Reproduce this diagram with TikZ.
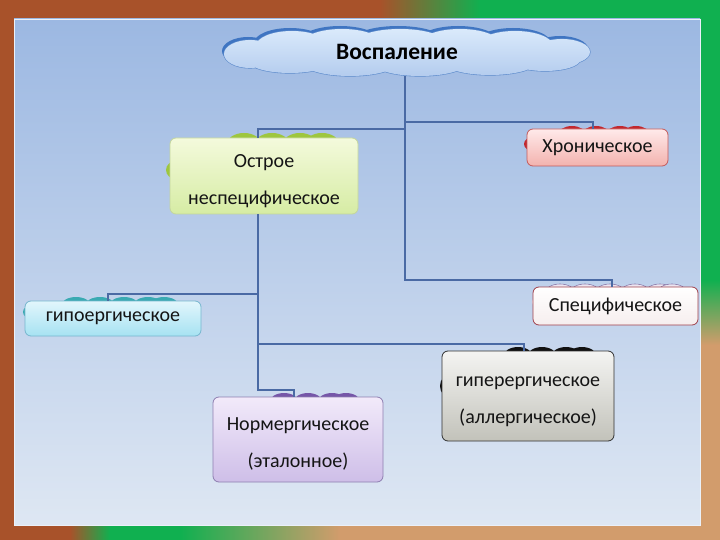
\documentclass[tikz,border=0pt]{standalone}
\usepackage{fontspec}
\setmainfont{Carlito}
\definecolor{frbrown}{HTML}{A8522A}
\definecolor{frgreen}{HTML}{10B050}
\definecolor{frtan}{HTML}{D29C6C}
\definecolor{pantop}{HTML}{9CB8E2}
\definecolor{panbot}{HTML}{DEE7F3}
\definecolor{lineblue}{HTML}{4A6AA4}
\definecolor{txt}{HTML}{151515}
\definecolor{cldark}{HTML}{3F75C2}
\definecolor{cltop}{HTML}{DAEAFB}
\definecolor{clbot}{HTML}{B4CCEE}
\definecolor{clline}{HTML}{5E8CCC}
\definecolor{bgreen}{HTML}{9EC63E}
\definecolor{bred}{HTML}{C2282E}
\definecolor{bspec}{HTML}{ECE6F2}
\definecolor{bspecl}{HTML}{8A7AAA}
\definecolor{bteal}{HTML}{3AAAB2}
\definecolor{bblack}{HTML}{111111}
\definecolor{bpurp}{HTML}{7656A8}
\definecolor{ogt}{HTML}{F4FADC}\definecolor{ogb}{HTML}{D6ECA4}\definecolor{ogd}{HTML}{C4D69C}
\definecolor{hrt}{HTML}{FFEAEA}\definecolor{hrb}{HTML}{F3B2AE}\definecolor{hrd}{HTML}{C45A5A}
\definecolor{spt}{HTML}{FFFFFF}\definecolor{spb}{HTML}{F6EEEE}\definecolor{spd}{HTML}{A0404A}
\definecolor{hot}{HTML}{E2F6FC}\definecolor{hob}{HTML}{A6E2F2}\definecolor{hod}{HTML}{76B6CE}
\definecolor{hyt}{HTML}{F4F4F2}\definecolor{hyb}{HTML}{C2C2BA}\definecolor{hyd}{HTML}{303030}
\definecolor{nmt}{HTML}{F2EAFA}\definecolor{nmb}{HTML}{CEBEE8}\definecolor{nmd}{HTML}{8E7EB0}
\tikzset{
  conn/.style={draw=lineblue, line width=1.6pt},
  box/.style={rounded corners=6pt, line width=0.8pt, align=center, inner sep=0pt,
    text=txt, font=\fontsize{20}{37}\selectfont},
  lbl/.style={align=center, inner sep=0pt, text=txt, font=\fontsize{20}{37}\selectfont},
  bump/.style={line width=0.6pt},
}
\newcommand{\cloudpath}{
  (250,54) ellipse (26 and 14)
  (292,46) ellipse (36 and 15)
  (342,44) ellipse (40 and 15)
  (400,43) ellipse (45 and 14)
  (460,44) ellipse (40 and 15)
  (515,46) ellipse (38 and 15)
  (562,52) ellipse (28 and 13)
  (290,62) ellipse (40 and 11)
  (350,64) ellipse (45 and 12)
  (420,64) ellipse (45 and 12)
  (490,63) ellipse (45 and 12)
  (545,60) ellipse (35 and 11)
  (405,54) ellipse (150 and 16)
}
\begin{document}
\begin{tikzpicture}[x=1pt,y=-1pt]
\useasboundingbox (0,0) rectangle (720,540);
% frame
\fill[frbrown] (0,0) rectangle (720,540);
\shade[left color=frbrown, right color=frgreen] (380,0) rectangle (480,19);
\fill[frgreen] (480,0) rectangle (720,19);
\fill[frgreen] (700,0) rectangle (720,280);
\shade[top color=frgreen, bottom color=frtan] (700,280) rectangle (720,345);
\fill[frtan] (700,345) rectangle (720,540);
\shade[left color=frbrown, right color=frgreen] (70,525) rectangle (110,540);
\fill[frgreen] (110,525) rectangle (180,540);
\shade[left color=frgreen, right color=frtan] (180,525) rectangle (340,540);
\fill[frtan] (340,525) rectangle (720,540);
% panel
\shade[top color=pantop, bottom color=panbot, draw=white!80!pantop, line width=0.8pt] (14,19) rectangle (700,525);

% title cloud: shadow, outline, fill
\begin{scope}[shift={(-2,-3)}]
  \fill[cldark] \cloudpath;
\end{scope}
\draw[clline, line width=1.2pt] \cloudpath;
\shade[top color=cltop, bottom color=clbot] \cloudpath;
\node[font=\fontsize{23.5}{26}\selectfont\bfseries, text=black] (vosp) at (397,52) {Воспаление};

% junctions
\coordinate (vospb) at (405,76);
\coordinate (jR) at (405,122);
\coordinate (jL) at (405,129);
\coordinate (jS) at (405,280);
\coordinate (jH) at (258,294);
\coordinate (jG) at (258,344);
\coordinate (jN) at (258,390);

% bumps (cloud shapes behind boxes)
\foreach \x in {244,272,300,322} \fill[bgreen] (\x,144) ellipse (17 and 11);
\fill[bgreen] (176,170) ellipse (10 and 9);
\foreach \x in {572,596,620,636} \fill[bred] (\x,135) ellipse (14 and 9);
\fill[bred] (533,144) ellipse (9 and 7);
\foreach \x in {560,585,610,635,660,672} \filldraw[bspec, draw=bspecl, bump] (\x,293) ellipse (15 and 9);
\fill[bspec] (540,302) ellipse (8 and 6);
\foreach \x in {76,100,124,148,164} \fill[bteal] (\x,306) ellipse (15 and 9);
\fill[bteal] (32,312) ellipse (9 and 7);
\foreach \x in {518,542,566,582} \fill[bblack] (\x,357) ellipse (15 and 10);
\fill[bblack] (451,386) ellipse (11 and 12);
\foreach \x in {284,308,332,346} \fill[bpurp] (\x,403) ellipse (15 and 10);
\fill[bpurp] (223,432) ellipse (10 and 10);

% boxes
\node[box, minimum width=188pt, minimum height=76pt, top color=ogt, bottom color=ogb, draw=ogd]
  (ostr) at (264,176) {};
\node[lbl] (ostrt) at ([yshift=-5pt]ostr.center) {Острое\\неспецифическое};
\node[box, minimum width=141pt, minimum height=37pt, top color=hrt, bottom color=hrb, draw=hrd]
  (hron) at (597.5,147.5) {Хроническое};
\node[box, minimum width=165pt, minimum height=38pt, top color=spt, bottom color=spb, draw=spd]
  (spec) at (615.5,306) {Специфическое};
\node[box, minimum width=176pt, minimum height=35pt, top color=hot, bottom color=hob, draw=hod]
  (hypo) at (113,318.5) {гипоергическое};
\node[box, minimum width=172pt, minimum height=90pt, top color=hyt, bottom color=hyb, draw=hyd]
  (hyper) at (528,396) {};
\node[lbl] (hypert) at ([yshift=-6pt]hyper.center) {гиперергическое\\(аллергическое)};
\node[box, minimum width=170pt, minimum height=85pt, top color=nmt, bottom color=nmb, draw=nmd]
  (norm) at (298,439.5) {};
\node[lbl] (normt) at ([yshift=-4.5pt]norm.center) {Нормергическое\\(эталонное)};

% connector lines
\draw[conn] (vospb) -- (jS) -| ([xshift=-3.5pt]spec.north);
\draw[conn] (jL) -| ([xshift=-6pt]ostr.north);
\draw[conn] (jR) -| ([xshift=-4.5pt]hron.north);
\draw[conn] ([xshift=-6pt]ostr.south) -- (jN) -| ([xshift=-4pt]norm.north);
\draw[conn] (jH) -| ([xshift=-5pt]hypo.north);
\draw[conn] (jG) -| ([xshift=-4pt]hyper.north);
\end{tikzpicture}
\end{document}
